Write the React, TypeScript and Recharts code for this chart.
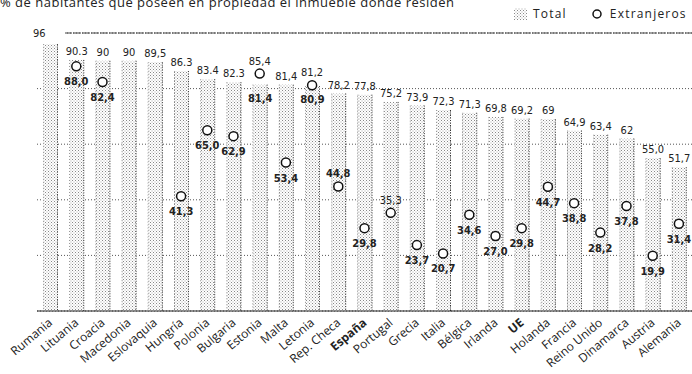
import { ComposedChart, Bar, Line, XAxis, YAxis, CartesianGrid, ReferenceLine, LabelList, Label } from "recharts"

const paises = ["Rumania", "Lituania", "Croacia", "Macedonia", "Eslovaquia", "Hungría", "Polonia", "Bulgaria", "Estonia", "Malta", "Letonia", "Rep. Checa", "España", "Portugal", "Grecia", "Italia", "Bélgica", "Irlanda", "UE", "Holanda", "Francia", "Reino Unido", "Dinamarca", "Austria", "Alemania"]
const total = [96, 90.3, 90, 90, 89.5, 86.3, 83.4, 82.3, 81.4, 81.4, 80.9, 78.2, 77.8, 75.2, 73.9, 72.3, 71.3, 69.8, 69.2, 69, 64.9, 63.4, 62, 55.0, 51.7]
const extranjeros = [null, 88.0, 82.4, null, null, 41.3, 65.0, 62.9, 85.4, 53.4, 81.2, 44.8, 29.8, 35.3, 23.7, 20.7, 34.6, 27.0, 29.8, 44.7, 38.8, 28.2, 37.8, 19.9, 31.4]
const totalEtiquetas = ["96", "90.3", "90", "90", "89,5", "86.3", "83.4", "82.3", "81,4", "81,4", "80,9", "78,2", "77,8", "75,2", "73,9", "72,3", "71,3", "69,8", "69,2", "69", "64,9", "63,4", "62", "55,0", "51,7"]
const extEtiquetas = ["", "88,0", "82,4", "", "", "41,3", "65,0", "62,9", "85,4", "53,4", "81,2", "44,8", "29,8", "35,3", "23,7", "20,7", "34,6", "27,0", "29,8", "44,7", "38,8", "28,2", "37,8", "19,9", "31,4"]
const yTicks = [0, 20, 40, 60, 80, 100]

// países en negrita en el eje, y etiquetas que cambian de sitio
const destacados = ["España", "UE"]
const totalDentro = ["Estonia", "Letonia"]
const extArriba = ["Estonia", "Letonia", "Rep. Checa", "Portugal"]
const extNormal = ["Estonia", "Letonia", "Portugal"]

const data = paises.map((pais, i) => ({ pais, total: total[i], ext: extranjeros[i] }))

const FONT = "'DejaVu Sans Condensed', 'DejaVu Sans', sans-serif"
const INK = "#222"

const StippleBar = (props: any) => {
    const { x, y, width, height } = props
    if (height == null || height <= 0) return <g />
    return (
        <g>
            <rect x={x} y={y} width={width} height={height} fill="url(#punteado)" />
            <line x1={x + width - 0.5} x2={x + width - 0.5} y1={y} y2={y + height} stroke="#333" strokeDasharray="1 1.5" />
            <line x1={x + 0.5} x2={x + 0.5} y1={y} y2={y + height} stroke="#999" strokeDasharray="1 2" />
        </g>
    )
}

const TotalLabel = (props: any) => {
    const { x, y, width, index } = props
    if (index === 0 || index == null) return <g />
    const dentro = totalDentro.includes(paises[index])
    return (
        <text x={x + width / 2} y={dentro ? y + 17 : y - 5} textAnchor="middle" fontSize={11} fontWeight={dentro ? 700 : 400} fill={INK} fontFamily={FONT}>
            {totalEtiquetas[index]}
        </text>
    )
}

const ExtDot = (props: any) => {
    const { cx, cy, index } = props
    if (cy == null || extranjeros[index] == null) return <g key={index} />
    return <circle key={index} cx={cx} cy={cy} r={4.5} fill="#fff" stroke="#111" strokeWidth={1.5} />
}

const ExtLabel = (props: any) => {
    const { x, y, index } = props
    if (index == null || extranjeros[index] == null || y == null) return <g />
    const pais = paises[index]
    const arriba = extArriba.includes(pais)
    return (
        <text x={x} y={arriba ? y - 9 : y + 19} textAnchor="middle" fontSize={11} fontWeight={extNormal.includes(pais) ? 400 : 700} fill={INK} fontFamily={FONT}>
            {extEtiquetas[index]}
        </text>
    )
}

const PaisTick = (props: any) => {
    const { x, y, payload } = props
    const bold = destacados.includes(payload.value)
    return (
        <g transform={`translate(${x + 3},${y + 5})`}>
            <text textAnchor="end" transform="rotate(-40)" fontSize={12} fontWeight={bold ? 700 : 400} fill={INK} fontFamily="'Open Sans', sans-serif">
                {payload.value}
            </text>
        </g>
    )
}

const TopeLabel = (props: any) => {
    const vb = props.viewBox || {}
    return (
        <g>
            <rect x={vb.x - 8} y={vb.y - 7} width={36} height={14} fill="#fff" />
            <text x={vb.x - 4} y={vb.y + 4} fontSize={11} fill={INK} fontFamily={FONT}>{totalEtiquetas[0]}</text>
        </g>
    )
}

export default function App() {
    return (
        <div style={{ position: "absolute", left: 0, top: 0, width: 692, height: 374, overflow: "hidden", background: "#fff" }}>
            <div style={{ position: "absolute", left: 0, top: -7, fontFamily: "'Open Sans', sans-serif", fontSize: 13, letterSpacing: 0.5, color: INK, whiteSpace: "nowrap" }}>
                % de habitantes que poseen en propiedad el inmueble donde residen
            </div>
            <div style={{ position: "absolute", left: 514, top: 5, display: "flex", alignItems: "center", fontFamily: "'Open Sans', sans-serif", fontSize: 12, letterSpacing: 1.2, color: INK }}>
                <svg width={14} height={14} style={{ marginRight: 5 }}>
                    <defs>
                        <pattern id="punteadoLeyenda" width={3} height={3} patternUnits="userSpaceOnUse">
                            <rect width={3} height={3} fill="#fff" />
                            <rect x={0} y={0} width={1} height={1} fill="#888" />
                            <rect x={1.5} y={1.5} width={1} height={1} fill="#aaa" />
                        </pattern>
                    </defs>
                    <rect x={0} y={1} width={13} height={12} fill="url(#punteadoLeyenda)" />
                </svg>
                <span>Total</span>
                <svg width={12} height={12} style={{ marginLeft: 24, marginRight: 7 }}>
                    <circle cx={6} cy={6} r={4} fill="#fff" stroke="#111" strokeWidth={1.5} />
                </svg>
                <span>Extranjeros</span>
            </div>
            <ComposedChart width={692} height={374} data={data} margin={{ top: 33, right: 0, left: 37, bottom: 0 }}>
                <defs>
                    <pattern id="punteado" width={3} height={3} patternUnits="userSpaceOnUse">
                        <rect width={3} height={3} fill="#fff" />
                        <rect x={0} y={0} width={1} height={1} fill="#888" />
                        <rect x={1.5} y={1.5} width={1} height={1} fill="#aaa" />
                    </pattern>
                </defs>
                <CartesianGrid vertical={false} stroke="#555" strokeDasharray="1 2" />
                <XAxis dataKey="pais" interval={0} height={63} tickLine={false} axisLine={{ stroke: "#222" }} tick={<PaisTick />} />
                <YAxis hide domain={[0, 100]} ticks={yTicks} />
                <ReferenceLine y={100} stroke="#444" strokeDasharray="8 1">
                    <Label content={<TopeLabel />} />
                </ReferenceLine>
                <Bar dataKey="total" barSize={15} shape={<StippleBar />} isAnimationActive={false}>
                    <LabelList dataKey="total" content={<TotalLabel />} />
                </Bar>
                <Line dataKey="ext" stroke="none" dot={<ExtDot />} activeDot={false} isAnimationActive={false}>
                    <LabelList dataKey="ext" content={<ExtLabel />} />
                </Line>
            </ComposedChart>
        </div>
    )
}
